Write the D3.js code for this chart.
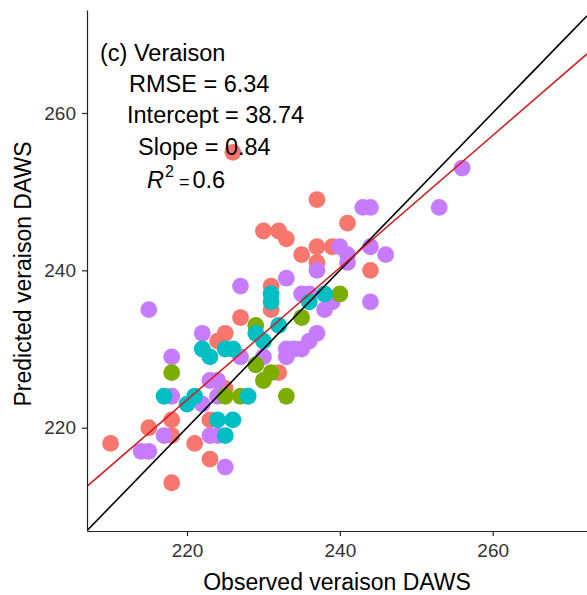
<!DOCTYPE html>
<html>
<head>
<meta charset="utf-8">
<script src="https://cdn.jsdelivr.net/npm/d3@7"></script>
<style>
  html, body { margin: 0; padding: 0; background: #fff; }
  svg { display: block; font-family: "Liberation Sans", Arial, sans-serif; }
</style>
</head>
<body>
<div id="chart"></div>
<script>
// observed / predicted veraison DAWS, one pair of arrays per colour group
const obsA  = [226,237,241,230,232,233,235,237,239,237,244,231,231,227,225,224,232,225,218,215,210,218,221,223,218,223];
const predA = [255,249,246,245,245,244,242,243,243,241,240,238,235,234,232,231,227,225,221,220,218,219,218,216,213,221];

const obsD  = [256,243,244,253,240,241,244,246,241,237,244,238,239,235,236,237,236,235,233,227,215,222,218,227,230,233,234,233,223,224,224,218,222,217,214,215,223,224,225];
const predD = [253,248,248,248,243,242,243,242,241,240,236,235,236,237,237,232,231,230,239,238,235,232,229,229,229,230,230,229,226,226,224,224,223,219,217,217,219,219,215];

const obsB  = [240,235,229,218,229,230,231,233,225,227];
const predB = [237,234,233,227,228,226,227,224,224,224];

const obsC  = [231,231,236,238,232,229,230,222,223,225,226,217,220,221,228,224,226,225];
const predC = [237,236,236,237,233,232,231,230,229,230,230,224,223,224,224,221,221,219];

const groupColors = ['#F8766D', '#C77CFF', '#7CAE00', '#00BFC4'];
const groupObs = [obsA, obsD, obsB, obsC];
const groupPred = [predA, predD, predB, predC];

const xTicks = [220, 240, 260];
const yTicks = [220, 240, 260];

const fitIntercept = 38.74;
const fitSlope = 0.84;

const statLines = [
  {text: '(c) Veraison', x: 100, y: 61},
  {text: 'RMSE = 6.34', x: 129, y: 92},
  {text: 'Intercept = 38.74', x: 127, y: 123},
  {text: 'Slope = 0.84', x: 138, y: 155}
];

const width = 587, height = 595;
const panel = {left: 87, right: 587, top: 10, bottom: 531};

const points = [];
groupObs.forEach((obs, g) => {
  obs.forEach((o, i) => points.push({obs: o, pred: groupPred[g][i], color: groupColors[g]}));
});

const svg = d3.select('#chart')
  .append('svg')
    .attr('width', width)
    .attr('height', height);

const xScale = d3.scaleLinear()
  .domain([206.915, 272.34])
  .range([panel.left, panel.right]);

const yScale = d3.scaleLinear()
  .domain([206.87, 273.09])
  .range([panel.bottom, panel.top]);

svg.append('clipPath')
    .attr('id', 'panel-clip')
  .append('rect')
    .attr('x', panel.left)
    .attr('y', panel.top)
    .attr('width', panel.right - panel.left)
    .attr('height', panel.bottom - panel.top);

const plot = svg.append('g').attr('clip-path', 'url(#panel-clip)');

// points
plot.selectAll('circle')
  .data(points)
  .join('circle')
    .attr('cx', d => xScale(d.obs))
    .attr('cy', d => yScale(d.pred))
    .attr('r', 8.4)
    .attr('fill', d => d.color);

// 1:1 line
const xd = xScale.domain();
plot.append('line')
    .attr('x1', xScale(xd[0])).attr('y1', yScale(xd[0]))
    .attr('x2', xScale(xd[1])).attr('y2', yScale(xd[1]))
    .attr('stroke', '#000')
    .attr('stroke-width', 1.6);

// fitted regression line
plot.append('line')
    .attr('x1', xScale(xd[0])).attr('y1', yScale(fitIntercept + fitSlope * xd[0]))
    .attr('x2', xScale(xd[1])).attr('y2', yScale(fitIntercept + fitSlope * xd[1]))
    .attr('stroke', '#D41C1C')
    .attr('stroke-width', 1.5);

// axes
const xAxis = svg.append('g')
    .attr('transform', `translate(0,${panel.bottom})`)
    .call(d3.axisBottom(xScale).tickValues(xTicks).tickSize(5).tickSizeOuter(0).tickPadding(7.5));

const yAxis = svg.append('g')
    .attr('transform', `translate(${panel.left},0)`)
    .call(d3.axisLeft(yScale).tickValues(yTicks).tickSize(5).tickSizeOuter(0).tickPadding(6));

[xAxis, yAxis].forEach(ax => {
  ax.select('.domain').attr('stroke', '#222').attr('stroke-width', 1.2);
  ax.selectAll('.tick line').attr('stroke', '#222').attr('stroke-width', 1.2);
  ax.selectAll('.tick text')
    .attr('fill', '#333')
    .style('font-size', '19px')
    .style('font-family', '"Liberation Sans", Arial, sans-serif');
});

// axis titles
svg.append('text')
    .text('Observed veraison DAWS')
    .attr('x', (panel.left + panel.right) / 2)
    .attr('y', 590)
    .attr('text-anchor', 'middle')
    .style('font-size', '23px');

svg.append('text')
    .text('Predicted veraison DAWS')
    .attr('transform', 'translate(31,274) rotate(-90)')
    .attr('text-anchor', 'middle')
    .style('font-size', '23px');

// annotation
svg.selectAll('.stat')
  .data(statLines)
  .join('text')
    .attr('class', 'stat')
    .text(d => d.text)
    .attr('x', d => d.x)
    .attr('y', d => d.y)
    .style('font-size', '23.5px');

const r2 = svg.append('text')
    .attr('x', 147)
    .attr('y', 188)
    .style('font-size', '23.5px');
r2.append('tspan').text('R').style('font-style', 'italic');
r2.append('tspan').text('2').attr('dx', 1).attr('dy', -11).style('font-size', '16px');
r2.append('tspan').text('=').attr('dx', 5).attr('dy', 11).style('font-size', '18px');
r2.append('tspan').text('0.6').attr('dx', 3);
</script>
</body>
</html>
